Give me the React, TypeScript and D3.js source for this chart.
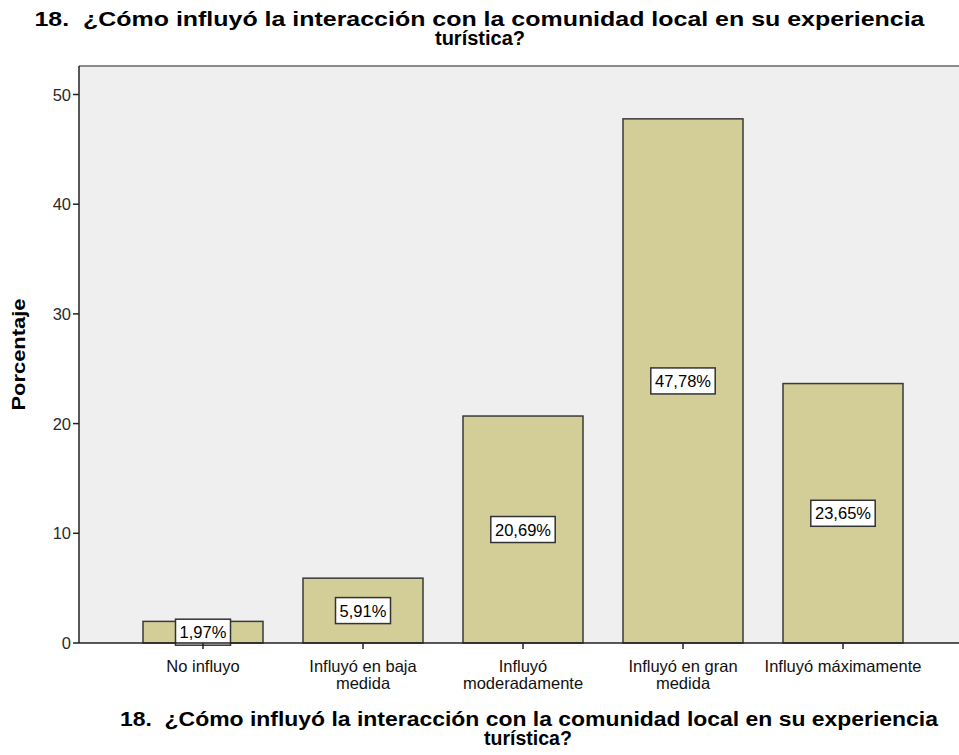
import React from "react";
import * as d3 from "d3";

const categories = [
  ["No influyo"],
  ["Influyó en baja", "medida"],
  ["Influyó", "moderadamente"],
  ["Influyó en gran", "medida"],
  ["Influyó máximamente"],
];
const percentages = [1.97, 5.91, 20.69, 47.78, 23.65];
const valueLabels = ["1,97%", "5,91%", "20,69%", "47,78%", "23,65%"];
const yTicks = [0, 10, 20, 30, 40, 50];
const titleLines = [
  "18.  ¿Cómo influyó la interacción con la comunidad local en su experiencia",
  "turística?",
];
const yAxisTitle = "Porcentaje";

const W = 959;
const H = 755;
const plotLeft = 79;
const plotTop = 66;
const plotRight = 959;
const plotBottom = 643;

export default function App() {
  const keys = categories.map((_, i) => String(i));
  const x = d3
    .scaleBand()
    .domain(keys)
    .range([123, 923])
    .paddingInner(0.25)
    .paddingOuter(0.125);
  const y = d3.scaleLinear().domain([0, 50]).range([plotBottom, 94.5]);
  const font = "Arial, 'Liberation Sans', sans-serif";
  const labelFont = 16.5;

  return (
    <svg
      width={W}
      height={H}
      style={{ position: "absolute", left: 0, top: 0, background: "#fff" }}
      fontFamily={font}
    >
      {/* title */}
      <text textAnchor="middle" fontSize={20.5} fontWeight="bold" fill="#000" style={{ whiteSpace: "pre" }}>
        <tspan x={479.5} y={26} textLength={890} lengthAdjust="spacingAndGlyphs">
          {titleLines[0]}
        </tspan>
        <tspan x={480} y={45} fontSize={20}>
          {titleLines[1]}
        </tspan>
      </text>
      {/* plot background */}
      <rect
        x={plotLeft}
        y={plotTop}
        width={plotRight - plotLeft}
        height={plotBottom - plotTop}
        fill="#efefef"
      />
      <line x1={plotLeft} x2={plotRight} y1={plotTop} y2={plotTop} stroke="#8a8a8a" strokeWidth={2} />
      {/* bars */}
      {percentages.map((v, i) => (
        <rect
          key={"b" + i}
          x={x(String(i))}
          y={y(v)}
          width={x.bandwidth()}
          height={y(0) - y(v)}
          fill="#d3ce97"
          stroke="#3a3a3a"
          strokeWidth={1.5}
        />
      ))}
      {/* value labels */}
      {percentages.map((v, i) => {
        const cx = (x(String(i)) as number) + x.bandwidth() / 2;
        const cy = (y(v) + y(0)) / 2;
        const tw = valueLabels[i].length * 9.4;
        return (
          <g key={"l" + i}>
            <rect
              x={cx - tw / 2 - 4}
              y={cy - 13}
              width={tw + 8}
              height={26}
              fill="#fff"
              stroke="#333"
              strokeWidth={1.5}
            />
            <text x={cx} y={cy + 6} textAnchor="middle" fontSize={labelFont} fill="#000">
              {valueLabels[i]}
            </text>
          </g>
        );
      })}
      {/* y axis */}
      <line x1={plotLeft} x2={plotLeft} y1={plotTop} y2={plotBottom} stroke="#222" strokeWidth={1.5} />
      {yTicks.map((t) => (
        <g key={"y" + t}>
          <line x1={plotLeft - 6} x2={plotLeft} y1={y(t)} y2={y(t)} stroke="#222" strokeWidth={1.5} />
          <text x={plotLeft - 8} y={y(t) + 6} textAnchor="end" fontSize={labelFont} fill="#2a2a2a">
            {t}
          </text>
        </g>
      ))}
      {/* x axis */}
      <line x1={plotLeft} x2={plotRight} y1={plotBottom} y2={plotBottom} stroke="#222" strokeWidth={1.5} />
      {categories.map((lines, i) => {
        const cx = (x(String(i)) as number) + x.bandwidth() / 2;
        return (
          <g key={"x" + i}>
            <line x1={cx} x2={cx} y1={plotBottom} y2={plotBottom + 6} stroke="#222" strokeWidth={1.5} />
            <text textAnchor="middle" fontSize={labelFont} fill="#111">
              {lines.map((l, j) => (
                <tspan key={j} x={cx} y={plotBottom + 29 + j * 17}>
                  {l}
                </tspan>
              ))}
            </text>
          </g>
        );
      })}
      {/* axis titles */}
      <text
        transform={`translate(25, ${(plotTop + plotBottom) / 2}) rotate(-90)`}
        textAnchor="middle"
        fontSize={18}
        fontWeight="bold"
        fill="#000"
        textLength={112}
        lengthAdjust="spacingAndGlyphs"
      >
        {yAxisTitle}
      </text>
      <text textAnchor="middle" fontSize={19.5} fontWeight="bold" fill="#000" style={{ whiteSpace: "pre" }}>
        <tspan x={529} y={726} textLength={818} lengthAdjust="spacingAndGlyphs">
          {titleLines[0]}
        </tspan>
        <tspan x={528} y={745}>
          {titleLines[1]}
        </tspan>
      </text>
    </svg>
  );
}
